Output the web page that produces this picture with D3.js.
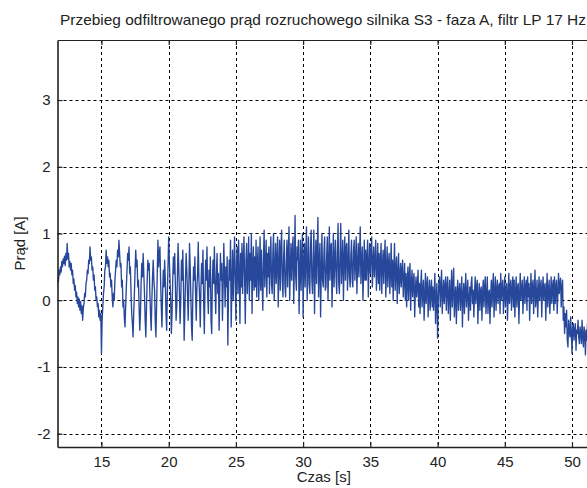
<!DOCTYPE html>
<html><head><meta charset="utf-8">
<script src="https://cdn.jsdelivr.net/npm/d3@7"></script>
<style>body{margin:0;background:#fff}svg{display:block}text{font-family:"Liberation Sans",Arial,sans-serif;fill:#222}</style>
</head><body><svg id="c" width="587" height="488"></svg>
<script>
const title = "Przebieg odfiltrowanego prąd rozruchowego silnika S3 - faza A, filtr LP 17 Hz";
const xLabel = "Czas [s]";
const yLabel = "Prąd [A]";
const xTicks = [15, 20, 25, 30, 35, 40, 45, 50];
const yTicks = [-2, -1, 0, 1, 2, 3];
const xDomain = [11.73, 51.34];
const yDomain = [-2.2, 3.9];
const t0 = 11.7, dt = 0.05;   // sample start time and step [s]
const current = [
  0.2, 0.35, 0.28, 0.45, 0.38, 0.5, 0.42, 0.58, 0.5, 0.62, 0.55, 0.66, 0.52, 0.7, 0.6, 0.85, 0.62, 0.7, 0.5, 0.58,
  0.45, 0.55, 0.38, 0.45, 0.25, 0.32, 0.15, 0.22, 0.05, 0.12, -0.05, 0.05, -0.1, 0.02, -0.15, -0.02, -0.2, -0.08, -0.3, -0.12,
  -0.05, 0.1, 0.05, 0.25, 0.3, 0.45, 0.4, 0.6, 0.55, 0.8, 0.6, 0.65, 0.45, 0.5, 0.3, 0.38, 0.15, 0.2, 0.0, 0.05,
  -0.1, -0.05, -0.25, -0.15, -0.3, -0.2, -0.8, -0.3, -0.1, 0.1, 0.2, 0.45, 0.5, 0.75, 0.55, 0.65, 0.5, 0.6, 0.35, 0.4,
  0.2, 0.3, 0.05, -0.1, 0.1, 0.0, 0.3, 0.45, 0.6, 0.5, 0.75, 0.65, 0.9, 0.7, 0.5, 0.55, 0.2, 0.3, -0.1, 0.0,
  -0.25, -0.4, -0.1, 0.2, 0.45, 0.7, 0.6, 0.8, 0.4, 0.5, 0.1, -0.2, -0.35, -0.55, -0.2, 0.1, 0.45, 0.75, 0.5, 0.6,
  0.2, 0.3, -0.1, -0.45, -0.2, 0.25, 0.55, 0.35, 0.7, 0.4, 0.1, -0.3, -0.55, -0.1, 0.3, 0.6, 0.45, 0.55, 0.1, -0.2,
  -0.45, 0.0, 0.35, 0.6, 0.3, 0.15, -0.3, -0.55, -0.1, 0.4, 0.9, 0.5, 0.7, 0.8, 0.3, -0.1, -0.4, 0.1, 0.45, 0.2,
  0.6, 0.3, -0.2, -0.45, 0.1, 0.5, 0.95, 0.6, 0.3, 0.0, -0.5, -0.2, 0.3, 0.65, 0.4, 0.7, 0.2, -0.3, -0.1, 0.35,
  0.85, 0.5, 0.1, -0.35, 0.0, 0.6, 0.3, 0.75, 0.2, -0.6, -0.2, 0.3, 0.7, 0.45, 0.1, -0.3, 0.2, 0.85, 0.5, 0.05,
  -0.4, -0.6, 0.1, 0.5, 0.3, 0.65, 0.1, -0.3, 0.2, 0.4, 0.87, 0.3, 0.05, -0.4, 0.2, 0.55, 0.25, 0.75, 0.0, -0.5,
  0.15, 0.6, 0.3, 0.8, 0.1, -0.2, 0.45, 0.2, 0.65, -0.3, -0.5, 0.3, 0.6, 0.25, 0.8, 0.15, -0.2, 0.4, 0.7, 0.1,
  0.4, -0.45, 0.1, 0.7, 0.3, 0.55, -0.3, 0.2, 0.85, 0.4, -0.1, 0.5, 0.2, 0.65, -0.67, 0.1, 0.6, 0.3, 0.9, -0.4,
  0.2, 0.75, 0.0, 0.5, 0.95, 0.3, -0.3, 0.6, 0.8, 0.1, 0.9, 0.4, -0.35, 0.7, 0.2, 0.85, 0.1, 0.6, 0.95, 0.3,
  -0.35, 0.6, 0.85, 0.1, 0.45, 0.95, 0.0, 0.7, 0.3, 1.0, -0.2, 0.5, 0.8, 0.15, 0.65, 0.2, 0.9, 0.05, 0.55, 0.8,
  0.0, 0.4, 0.95, 0.15, 0.75, 0.3, -0.15, 0.6, 1.05, 0.2, 0.5, 0.9, 0.05, 0.7, 0.35, 0.8, 0.1, 0.6, 0.95, 0.25,
  0.1, 0.7, 1.0, 0.0, 0.45, 0.85, 0.25, 0.6, 0.95, -0.1, 0.5, 0.9, 0.15, 0.75, 1.05, 0.3, 0.05, 0.65, 0.9, 0.2,
  0.05, 0.55, 0.9, 0.2, 0.7, 1.1, 0.0, 0.45, 0.85, 0.3, 0.75, 0.95, -0.05, 0.5, 1.27, 0.35, 0.15, 0.8, 0.6, 0.9,
  -0.2, 0.4, 0.9, 0.15, 0.65, 1.0, -0.25, 0.55, 0.85, 0.2, 0.7, 1.1, 0.0, 0.45, 0.95, 0.25, 0.1, 0.8, 1.05, 0.3,
  0.1, 0.6, 1.05, -0.2, 0.5, 0.9, 0.25, 0.75, 1.24, 0.05, 0.55, 0.85, -0.25, 0.4, 1.0, 0.3, 0.2, 0.7, 0.95, 0.15,
  0.2, 0.65, 0.95, 0.0, 0.5, 1.1, 0.3, 0.8, 0.85, -0.1, 0.45, 1.0, 0.2, 0.6, 0.9, 0.35, 0.1, 0.75, 1.15, 0.25,
  0.1, 0.7, 1.15, 0.25, 0.55, 0.9, 0.0, 0.6, 0.95, 0.3, 0.8, 0.85, 0.15, 0.5, 1.05, 0.35, 0.2, 0.65, 0.9, 0.3,
  0.2, 0.75, 0.9, 0.3, 0.6, 0.95, 0.1, 0.5, 0.85, 0.35, 0.7, 1.1, 0.25, 0.55, 0.8, 0.0, 0.4, 0.9, 0.3, 0.75,
  0.3, 0.65, 0.9, 0.05, 0.5, 0.85, 0.4, 0.7, 0.95, 0.2, 0.55, 0.8, 0.35, 0.6, 0.9, 0.15, 0.45, 0.85, 0.25, 0.7,
  0.15, 0.6, 0.85, 0.1, 0.5, 0.75, 0.25, 0.65, 0.9, 0.05, 0.45, 0.8, 0.2, 0.55, 0.7, 0.1, 0.4, 0.85, 0.2, 0.6,
  0.0, 0.5, 0.85, 0.15, 0.45, 0.65, -0.05, 0.4, 0.7, 0.1, 0.35, 0.55, 0.2, 0.45, 0.6, 0.05, 0.3, 0.55, 0.0, 0.4,
  -0.1, 0.3, 0.5, 0.0, 0.35, 0.55, -0.15, 0.25, 0.45, 0.05, 0.3, 0.4, -0.25, 0.15, 0.35, 0.05, 0.2, 0.45, -0.1, 0.25,
  -0.2, 0.2, 0.45, -0.1, 0.15, 0.3, -0.3, 0.05, 0.4, -0.05, 0.2, 0.35, -0.25, 0.1, 0.3, -0.15, 0.15, 0.3, -0.1, 0.2,
  -0.15, 0.1, 0.4, -0.35, 0.05, 0.25, -0.57, 0.0, 0.25, 0.35, -0.1, 0.2, 0.45, -0.2, 0.1, 0.3, -0.05, 0.2, 0.35, -0.15,
  0.2, 0.35, -0.2, 0.05, 0.3, -0.3, 0.1, 0.45, -0.1, 0.2, 0.48, -0.25, 0.05, 0.2, -0.35, 0.1, 0.3, -0.15, 0.15, 0.25,
  -0.15, 0.1, 0.35, -0.4, 0.05, 0.25, -0.2, 0.15, 0.4, -0.1, 0.1, 0.3, -0.3, 0.0, 0.2, -0.15, 0.25, 0.35, -0.05, 0.15,
  -0.25, 0.1, 0.35, -0.05, 0.2, 0.3, -0.35, 0.05, 0.25, -0.15, 0.15, 0.2, -0.3, 0.1, 0.3, -0.1, 0.2, 0.35, -0.2, 0.05,
  0.35, -0.2, 0.1, 0.15, -0.35, 0.05, 0.3, -0.1, 0.2, 0.4, -0.25, 0.1, 0.35, -0.15, 0.15, 0.3, -0.05, 0.2, 0.25, -0.2,
  0.4, 0.0, 0.2, 0.3, -0.2, 0.1, 0.35, -0.1, 0.15, 0.25, -0.3, 0.05, 0.4, -0.05, 0.2, 0.3, -0.15, 0.15, 0.35, -0.1,
  0.3, -0.25, 0.1, 0.35, -0.1, 0.2, 0.25, -0.35, 0.05, 0.4, 0.0, 0.15, 0.3, -0.2, 0.1, 0.35, -0.05, 0.2, 0.3, -0.15,
  0.35, 0.05, 0.25, -0.3, 0.1, 0.4, -0.05, 0.2, 0.3, -0.2, 0.15, 0.45, -0.1, 0.05, 0.3, -0.25, 0.1, 0.35, 0.0, 0.2,
  0.3, -0.25, 0.15, 0.35, 0.0, 0.2, 0.25, -0.3, 0.1, 0.4, -0.1, 0.15, 0.3, -0.2, 0.05, 0.35, -0.05, 0.2, 0.3, -0.15,
  0.35, -0.05, 0.2, 0.3, -0.2, 0.1, 0.4, 0.1, 0.25, 0.33, -0.1, 0.2, 0.3, -0.3, -0.1, -0.5, -0.2, -0.4, -0.15, -0.6,
  -0.7, -0.3, -0.45, -0.55, -0.25, -0.5, -0.8, -0.4, -0.35, -0.6, -0.45, -0.35, -0.75, -0.45, -0.5, -0.3, -0.55, -0.65, -0.4, -0.5,
  -0.65, -0.3, -0.55, -0.7, -0.4, -0.5, -0.82, -0.45, -0.6, -0.35, -0.55, -0.7, -0.45, -0.6
];

const L = 57.5, R = 590, T = 40, B = 447;
const FS = "15px";
const svg = d3.select("#c");
const x = d3.scaleLinear().domain(xDomain).range([L, R]);
const y = d3.scaleLinear().domain(yDomain).range([B, T]);

svg.append("defs").append("clipPath").attr("id","clip")
  .append("rect").attr("x",L).attr("y",T).attr("width",R-L).attr("height",B-T);

// grid
const g = svg.append("g");
g.selectAll(".gx").data(xTicks).join("line")
  .attr("x1",d=>Math.round(x(d))+0.5).attr("x2",d=>Math.round(x(d))+0.5)
  .attr("y1",T).attr("y2",B)
  .attr("stroke","#000").attr("stroke-width",1).attr("stroke-dasharray","3,3");
g.selectAll(".gy").data(yTicks).join("line")
  .attr("y1",d=>Math.round(y(d))+0.5).attr("y2",d=>Math.round(y(d))+0.5)
  .attr("x1",L).attr("x2",R)
  .attr("stroke","#000").attr("stroke-width",1).attr("stroke-dasharray","3,3");

// signal
const pts = current.map((v,i)=>[t0 + i*dt, v]);
svg.append("path").datum(pts).attr("clip-path","url(#clip)")
  .attr("fill","none").attr("stroke","#27489a").attr("stroke-width",1.35)
  .attr("stroke-linejoin","round")
  .attr("d", d3.line().x(d=>x(d[0])).y(d=>y(d[1])));

// axes
const fmt = d => String(d);
const ax = svg.append("g").attr("transform",`translate(0,${B})`)
  .call(d3.axisBottom(x).tickValues(xTicks).tickFormat(fmt).tickSizeInner(-5).tickSizeOuter(0).tickPadding(9));
const axT = svg.append("g").attr("transform",`translate(0,${T})`)
  .call(d3.axisTop(x).tickValues(xTicks).tickSizeInner(-5).tickSizeOuter(0).tickFormat(""));
const ay = svg.append("g").attr("transform",`translate(${L},0)`)
  .call(d3.axisLeft(y).tickValues(yTicks).tickFormat(fmt).tickSizeInner(-5).tickSizeOuter(0).tickPadding(7));
[ax, axT, ay].forEach(a=>{
  a.select(".domain").attr("stroke","#222").attr("stroke-width",1.6);
  a.selectAll(".tick line").attr("stroke","#222").attr("stroke-width",1.2);
  a.selectAll(".tick text").attr("font-size",FS).attr("fill","#222")
    .style("font-family","'Liberation Sans',Arial,sans-serif");
});
axT.select(".domain").attr("stroke-width",1.2);

svg.append("text").attr("x",60).attr("y",25).attr("font-size",FS)
  .attr("textLength",526).attr("lengthAdjust","spacingAndGlyphs").text(title);
svg.append("text").attr("x",(L+R)/2).attr("y",482).attr("text-anchor","middle").attr("font-size",FS).text(xLabel);
svg.append("text").attr("transform",`translate(25,${(T+B)/2}) rotate(-90)`).attr("text-anchor","middle").attr("font-size",FS).text(yLabel);
</script></body></html>
